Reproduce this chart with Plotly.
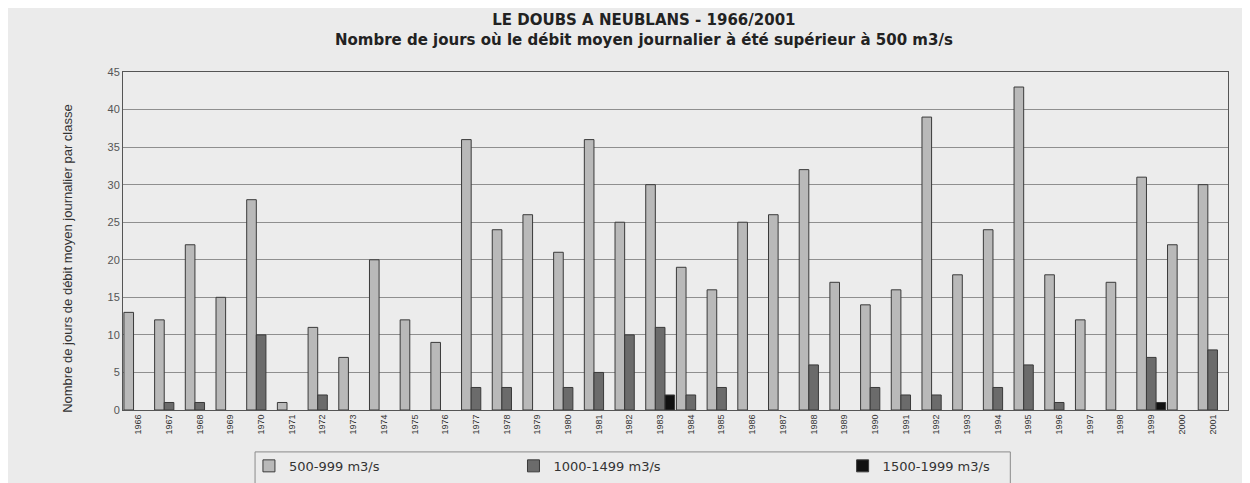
import plotly.graph_objects as go

years = [str(y) for y in range(1966, 2002)]
s500 = [13, 12, 22, 15, 28, 1, 11, 7, 20, 12, 9, 36, 24, 26, 21, 36, 25, 30, 19, 16,
        25, 26, 32, 17, 14, 16, 39, 18, 24, 43, 18, 12, 17, 31, 22, 30]
s1000 = [None, 1, 1, None, 10, None, 2, None, None, None, None, 3, 3, None, 3, 5, 10, 11, 2, 3,
         None, None, 6, None, 3, 2, 2, None, 3, 6, 1, None, None, 7, None, 8]
# 1500-1999 class: only 1983 (2 days) and 1999 (1 day)
s1500 = [None] * 17 + [2] + [None] * 15 + [1] + [None] * 2
series_names = ["500-999 m3/s", "1000-1499 m3/s", "1500-1999 m3/s"]
colors = ["#b9b9b9", "#6b6b6b", "#111111"]
legend_ids = ["legend", "legend2", "legend3"]
legend_x = [0.194, 0.407, 0.672]

fig = go.Figure()
for name, vals, col, lid in zip(series_names, [s500, s1000, s1500], colors, legend_ids):
    fig.add_trace(go.Bar(
        x=years, y=vals, name=name, legend=lid,
        marker=dict(color=col, line=dict(color="#3a3a3a", width=1)),
    ))

legend_common = dict(
    orientation="h", xref="container", yref="container",
    xanchor="left", y=0.036, yanchor="middle",
    bgcolor="rgba(0,0,0,0)", borderwidth=0,
    font=dict(family="DejaVu Sans", size=13, color="#333333"),
)

fig.update_layout(
    width=1242, height=475,
    barmode="group", bargap=0.06, bargroupgap=0,
    paper_bgcolor="#ebebeb", plot_bgcolor="#ececec",
    margin=dict(l=115, r=22, t=64, b=73),
    font=dict(family="Liberation Sans, Arial", color="#333333"),
    title=dict(
        text="<b>LE DOUBS A NEUBLANS - 1966/2001</b><br><b>Nombre de jours où le débit moyen journalier à été supérieur à 500 m3/s</b>",
        x=0.512, xanchor="center", y=0.964, yanchor="top",
        font=dict(family="DejaVu Sans", size=15, color="#222222"),
    ),
    showlegend=True,
    legend=dict(x=legend_x[0], **legend_common),
    legend2=dict(x=legend_x[1], **legend_common),
    legend3=dict(x=legend_x[2], **legend_common),
    shapes=[dict(type="rect", xref="paper", yref="paper",
                 x0=0.1195, x1=0.803, y0=-0.24, y1=-0.124,
                 line=dict(color="#8a8a8a", width=1), layer="below")],
    annotations=[dict(text="Nombre de jours de débit moyen journalier par classe",
                      xref="paper", yref="paper", x=-0.0498, y=0.45,
                      textangle=-90, showarrow=False,
                      xanchor="center", yanchor="middle",
                      font=dict(size=13, color="#333333"))],
)
fig.update_xaxes(
    type="category", tickangle=-90, tickfont=dict(size=9, color="#333333"),
    showline=True, linecolor="#555555", linewidth=1, mirror=True,
    showgrid=False, ticks="",
)
fig.update_yaxes(
    range=[0, 45], dtick=5, tickfont=dict(size=11, color="#555555"),
    showgrid=True, gridcolor="#8f8f8f", gridwidth=1,
    showline=True, linecolor="#555555", linewidth=1, mirror=True,
    zeroline=False, ticks="", ticklen=0,
)
fig.write_html("out.html")
